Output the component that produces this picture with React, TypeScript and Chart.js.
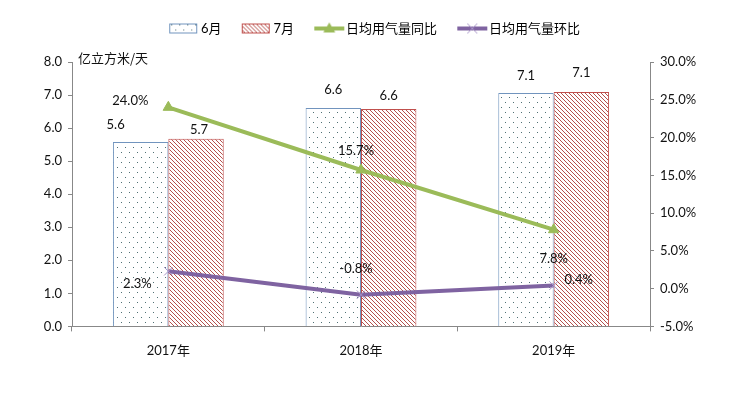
import React, { useEffect, useRef } from 'react';
import { Chart, registerables } from 'chart.js';

Chart.register(...registerables);

const categories = ['2017年', '2018年', '2019年'];
const juneValues = [5.58, 6.61, 7.06];
const julyValues = [5.68, 6.58, 7.09];
const yoyValues = [24.0, 15.7, 7.8];
const momValues = [2.3, -0.8, 0.4];
const leftTicks = [0, 1, 2, 3, 4, 5, 6, 7, 8];
const rightTicks = [-5, 0, 5, 10, 15, 20, 25, 30];
const seriesNames = ['6月', '7月', '日均用气量同比', '日均用气量环比'];
const unitTitle = '亿立方米/天';

// label placement offsets (style, not data)
const juneLabelOffset = [[-25, -17], [0, -18], [0, -17]];
const julyLabelOffset = [[3, -9], [0, -13], [0, -19]];
const yoyLabelOffset = [[-38, -7], [-5, -19], [0, 29]];
const momLabelOffset = [[-31, 13], [-5, -26], [25, -6]];

const FONT = 'Lato, "Noto Sans CJK SC", sans-serif';
const CJK = '"Noto Sans CJK SC", sans-serif';

const GREEN = '#9BBB59';
const PURPLE = '#7F63A1';
const RED = '#C0504D';
const BLUE = '#7194BE';
const AXIS = '#888888';

function makeDotPattern(): CanvasPattern {
  const c = document.createElement('canvas');
  c.width = 8; c.height = 10;
  const x = c.getContext('2d')!;
  x.fillStyle = '#ffffff';
  x.fillRect(0, 0, 8, 10);
  x.fillStyle = '#4f6f73';
  x.fillRect(1, 2, 1, 1);
  x.fillRect(5, 7, 1, 1);
  return x.createPattern(c, 'repeat')!;
}

function makeHatchPattern(): CanvasPattern {
  const c = document.createElement('canvas');
  c.width = 4; c.height = 4;
  const x = c.getContext('2d')!;
  x.fillStyle = '#ffffff';
  x.fillRect(0, 0, 4, 4);
  x.fillStyle = '#b5504c';
  for (let i = 0; i < 4; i++) x.fillRect(i, i, 1, 1);
  return x.createPattern(c, 'repeat')!;
}

// legend icon: visible icon placed at offset inside wider transparent canvas
const ICON_W = 60;
const ICON_OFF = 23;
function makeBarIcon(fill: CanvasPattern | string, border: string): HTMLCanvasElement {
  const c = document.createElement('canvas');
  c.width = ICON_W; c.height = 12;
  const x = c.getContext('2d')!;
  x.fillStyle = fill as any;
  x.fillRect(ICON_OFF, 1, 28, 10);
  x.strokeStyle = border;
  x.lineWidth = 1;
  x.strokeRect(ICON_OFF + 0.5, 1.5, 27, 9);
  return c;
}
function makeLineIcon(color: string, marker: 'triangle' | 'cross'): HTMLCanvasElement {
  const c = document.createElement('canvas');
  c.width = ICON_W; c.height = 14;
  const x = c.getContext('2d')!;
  x.strokeStyle = color;
  x.lineWidth = 4;
  x.beginPath();
  x.moveTo(ICON_OFF, 7);
  x.lineTo(ICON_OFF + 30, 7);
  x.stroke();
  const cx = ICON_OFF + 15;
  if (marker === 'triangle') {
    x.fillStyle = color;
    x.beginPath();
    x.moveTo(cx, 1);
    x.lineTo(cx + 6, 11);
    x.lineTo(cx - 6, 11);
    x.closePath();
    x.fill();
  } else {
    x.strokeStyle = '#a895c8';
    x.lineWidth = 1;
    x.beginPath();
    x.moveTo(cx - 5, 2); x.lineTo(cx + 5, 12);
    x.moveTo(cx + 5, 2); x.lineTo(cx - 5, 12);
    x.stroke();
  }
  return c;
}

const labelPlugin = {
  id: 'valueLabels',
  afterDatasetsDraw(chart: any) {
    const ctx = chart.ctx;
    const sets = [
      { idx: 0, vals: juneValues, off: juneLabelOffset, fmt: (v: number) => v.toFixed(1) },
      { idx: 1, vals: julyValues, off: julyLabelOffset, fmt: (v: number) => v.toFixed(1) },
      { idx: 2, vals: yoyValues, off: yoyLabelOffset, fmt: (v: number) => v.toFixed(1) + '%' },
      { idx: 3, vals: momValues, off: momLabelOffset, fmt: (v: number) => v.toFixed(1) + '%' },
    ];
    ctx.save();
    ctx.font = `13px ${FONT}`;
    ctx.fillStyle = '#111';
    ctx.textAlign = 'center';
    ctx.textBaseline = 'middle';
    for (const s of sets) {
      const meta = chart.getDatasetMeta(s.idx);
      meta.data.forEach((el: any, i: number) => {
        const [dx, dy] = s.off[i];
        ctx.fillText(s.fmt(s.vals[i]), el.x + dx, el.y + dy);
      });
    }
    // unit title
    const area = chart.chartArea;
    ctx.font = `13px ${CJK}`;
    ctx.textAlign = 'left';
    ctx.fillStyle = '#111';
    ctx.fillText(unitTitle, area.left + 6, area.top - 4);
    ctx.restore();
  },
};

export default function App() {
  const ref = useRef<HTMLCanvasElement | null>(null);
  useEffect(() => {
    document.body.style.margin = '0';
    const dot = makeDotPattern();
    const hatch = makeHatchPattern();
    const icons = [
      makeBarIcon(dot, BLUE),
      makeBarIcon(hatch, RED),
      makeLineIcon(GREEN, 'triangle'),
      makeLineIcon(PURPLE, 'cross'),
    ];
    const chart = new Chart(ref.current!, {
      type: 'bar',
      data: {
        labels: categories,
        datasets: [
          {
            type: 'bar', label: seriesNames[0], data: juneValues, yAxisID: 'y',
            backgroundColor: dot, borderColor: BLUE, borderWidth: 1,
            categoryPercentage: 0.575, barPercentage: 1, order: 2,
          },
          {
            type: 'bar', label: seriesNames[1], data: julyValues, yAxisID: 'y',
            backgroundColor: hatch, borderColor: RED, borderWidth: 1,
            categoryPercentage: 0.575, barPercentage: 1, order: 2,
          },
          {
            type: 'line', label: seriesNames[2], data: yoyValues, yAxisID: 'y2',
            borderColor: GREEN, backgroundColor: GREEN, borderWidth: 4,
            pointStyle: 'triangle', pointRadius: 6, pointBackgroundColor: GREEN,
            pointBorderColor: GREEN, pointBorderWidth: 1, order: 0,
          },
          {
            type: 'line', label: seriesNames[3], data: momValues, yAxisID: 'y2',
            borderColor: PURPLE, backgroundColor: PURPLE, borderWidth: 4,
            pointStyle: 'crossRot', pointRadius: 6, pointBorderColor: '#a895c8',
            pointBorderWidth: 1, order: 0,
          },
        ] as any,
      },
      options: {
        animation: false,
        responsive: false,
        maintainAspectRatio: false,
        layout: { padding: { top: 13, bottom: 22, left: 6, right: 0 } },
        plugins: {
          tooltip: { enabled: false },
          title: {
            display: true,
            text: '',
            position: 'top',
            weight: 500,
            font: { size: 10, lineHeight: 1 },
            padding: { top: 0, bottom: 7 },
          } as any,
          legend: {
            position: 'top',
            labels: {
              usePointStyle: true,
              pointStyleWidth: 36.5,
              padding: 9,
              color: '#111',
              font: { size: 13, family: FONT },
              generateLabels: () =>
                seriesNames.map((n, i) => ({
                  text: n,
                  pointStyle: icons[i] as any,
                  fillStyle: 'transparent',
                  strokeStyle: 'transparent',
                  lineWidth: 0,
                  hidden: false,
                  datasetIndex: i,
                })) as any,
            },
          },
        },
        scales: {
          x: {
            grid: { drawOnChartArea: false, tickLength: 5, color: AXIS, offset: true },
            border: { color: AXIS },
            ticks: { color: '#111', font: { size: 13, family: FONT }, padding: 12 },
          },
          y: {
            position: 'left',
            min: 0, max: 8,
            afterBuildTicks: (s: any) => { s.ticks = leftTicks.map((v) => ({ value: v })); },
            afterFit: (s: any) => { s.width = 66; },
            grid: { drawOnChartArea: false, tickLength: 4, color: AXIS },
            border: { color: AXIS },
            ticks: {
              color: '#111', font: { size: 13, family: FONT }, padding: 6,
              callback: (v: any) => Number(v).toFixed(1),
            },
          },
          y2: {
            position: 'right',
            min: -5, max: 30,
            afterBuildTicks: (s: any) => { s.ticks = rightTicks.map((v) => ({ value: v })); },
            afterFit: (s: any) => { s.width = 82; },
            grid: { drawOnChartArea: false, tickLength: 4, color: AXIS },
            border: { color: AXIS },
            ticks: {
              color: '#111', font: { size: 13, family: FONT }, padding: 6,
              callback: (v: any) => Number(v).toFixed(1) + '%',
            },
          },
        },
      },
      plugins: [labelPlugin],
    });
    return () => chart.destroy();
  }, []);
  return (
    <div style={{ width: 732, height: 393, background: '#fff' }}>
      <canvas ref={ref} width={732} height={393} style={{ display: 'block' }} />
    </div>
  );
}
